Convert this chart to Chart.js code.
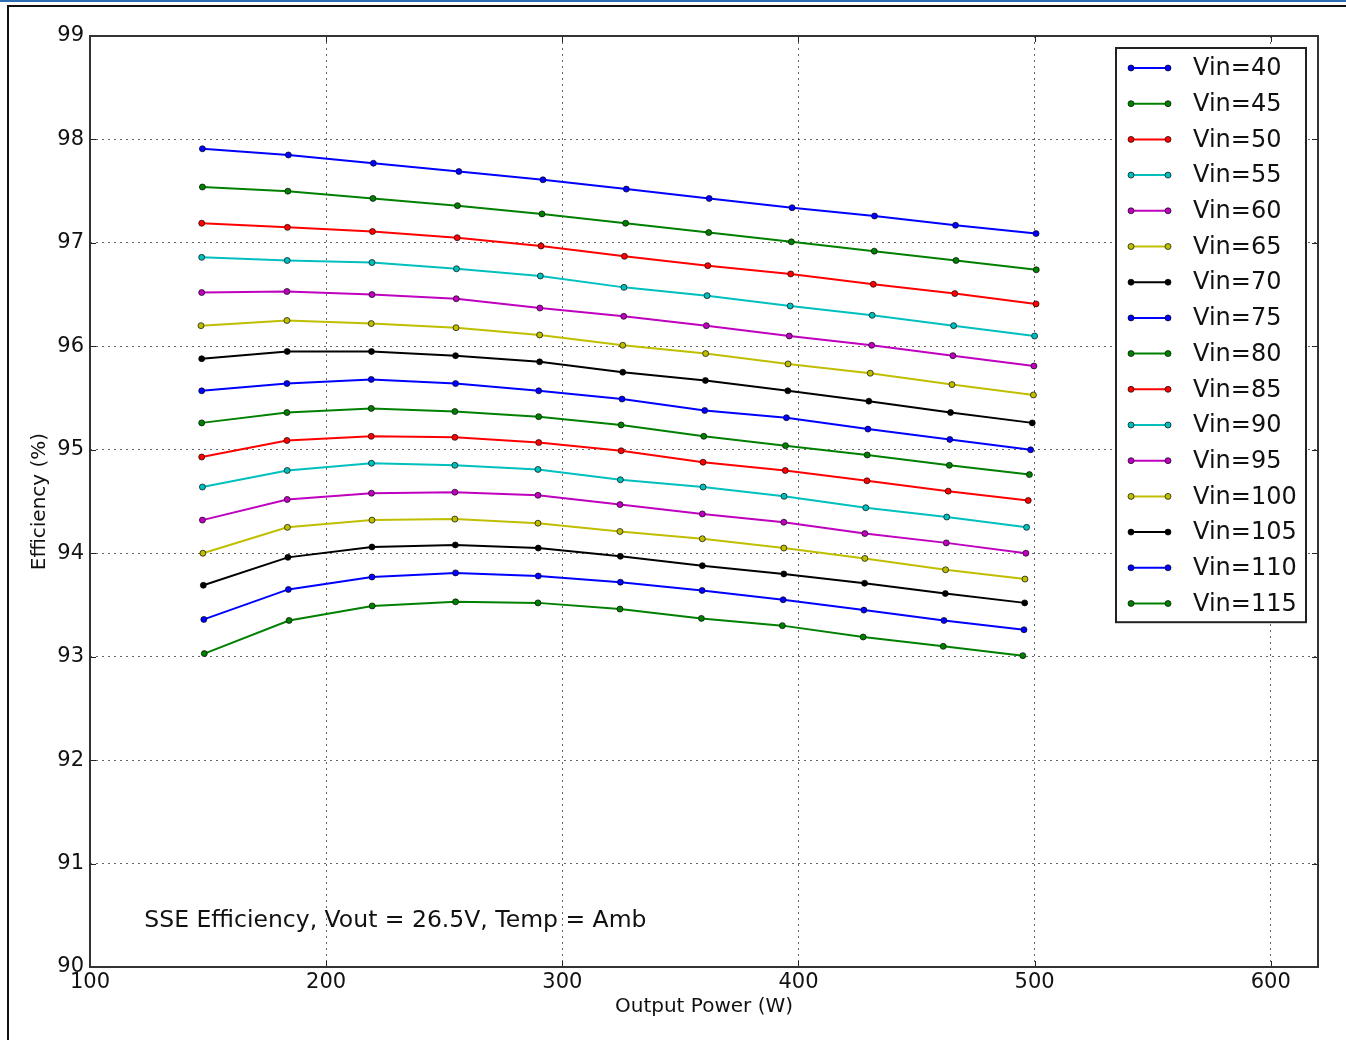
<!DOCTYPE html>
<html>
<head>
<meta charset="utf-8">
<script src="https://cdn.jsdelivr.net/npm/chart.js@4.4.0/dist/chart.umd.min.js"></script>
<style>
  html, body { margin: 0; padding: 0; background: #fff; }
  #wrap { position: relative; width: 1346px; height: 1040px; }
  canvas { display: block; }
</style>
</head>
<body>
<div id="wrap"><canvas id="c" width="1346" height="1040"></canvas></div>
<script>
// ---- Data ----
const seriesNames = ["Vin=40","Vin=45","Vin=50","Vin=55","Vin=60","Vin=65","Vin=70","Vin=75",
                     "Vin=80","Vin=85","Vin=90","Vin=95","Vin=100","Vin=105","Vin=110","Vin=115"];
const seriesColors = ["#0000ff","#008000","#ff0000","#00bfbf","#bf00bf","#bfbf00","#000000",
                      "#0000ff","#008000","#ff0000","#00bfbf","#bf00bf","#bfbf00","#000000","#0000ff","#008000"];

// Output power (W) per series
const power40  = [147.6,184.0,220.0,256.2,291.8,327.1,362.2,397.3,432.2,466.5,500.6];
const power45  = [147.6,183.8,219.8,255.6,291.4,326.8,362.0,397.0,432.1,466.7,500.7];
const power50  = [147.3,183.6,219.6,255.5,291.0,326.3,361.6,396.7,431.7,466.2,500.6];
const power55  = [147.3,183.5,219.4,255.2,290.7,326.1,361.3,396.5,431.2,465.7,500.0];
const power60  = [147.3,183.4,219.4,255.1,290.5,326.0,361.0,396.1,431.0,465.4,499.7];
const power65  = [147.0,183.4,219.1,255.0,290.4,325.6,360.7,395.6,430.4,465.0,499.5];
const power70  = [147.3,183.5,219.2,254.8,290.4,325.6,360.6,395.5,429.8,464.4,499.0];
const power75  = [147.3,183.4,219.1,254.8,290.0,325.3,360.3,394.9,429.4,464.1,498.3];
const power80  = [147.3,183.4,219.1,254.5,290.0,324.9,359.9,394.5,429.1,463.9,497.8];
const power85  = [147.3,183.4,219.1,254.5,290.0,324.9,359.6,394.4,429.0,463.4,497.3];
const power90  = [147.6,183.5,219.2,254.5,289.7,324.6,359.6,393.9,428.5,462.8,496.6];
const power95  = [147.6,183.5,219.2,254.5,289.7,324.4,359.3,393.8,428.1,462.6,496.3];
const power100 = [147.8,183.6,219.4,254.5,289.7,324.4,359.3,393.8,428.1,462.3,495.9];
const power105 = [148.0,183.8,219.4,254.7,289.8,324.6,359.3,393.8,428.0,462.2,495.8];
const power110 = [148.2,184.0,219.4,254.8,289.8,324.6,359.2,393.5,427.7,461.6,495.5];
const power115 = [148.4,184.3,219.5,254.8,289.7,324.4,358.9,393.2,427.4,461.3,495.0];

// Efficiency (%) per series
const eff40  = [97.91,97.85,97.77,97.69,97.61,97.52,97.43,97.34,97.26,97.17,97.09];
const eff45  = [97.54,97.50,97.43,97.36,97.28,97.19,97.10,97.01,96.92,96.83,96.74];
const eff50  = [97.19,97.15,97.11,97.05,96.97,96.87,96.78,96.70,96.60,96.51,96.41];
const eff55  = [96.86,96.83,96.81,96.75,96.68,96.57,96.49,96.39,96.30,96.20,96.10];
const eff60  = [96.52,96.53,96.50,96.46,96.37,96.29,96.20,96.10,96.01,95.91,95.81];
const eff65  = [96.20,96.25,96.22,96.18,96.11,96.01,95.93,95.83,95.74,95.63,95.53];
const eff70  = [95.88,95.95,95.95,95.91,95.85,95.75,95.67,95.57,95.47,95.36,95.26];
const eff75  = [95.57,95.64,95.68,95.64,95.57,95.49,95.38,95.31,95.20,95.10,95.00];
const eff80  = [95.26,95.36,95.40,95.37,95.32,95.24,95.13,95.04,94.95,94.85,94.76];
const eff85  = [94.93,95.09,95.13,95.12,95.07,94.99,94.88,94.80,94.70,94.60,94.51];
const eff90  = [94.64,94.80,94.87,94.85,94.81,94.71,94.64,94.55,94.44,94.35,94.25];
const eff95  = [94.32,94.52,94.58,94.59,94.56,94.47,94.38,94.30,94.19,94.10,94.00];
const eff100 = [94.00,94.25,94.32,94.33,94.29,94.21,94.14,94.05,93.95,93.84,93.75];
const eff105 = [93.69,93.96,94.06,94.08,94.05,93.97,93.88,93.80,93.71,93.61,93.52];
const eff110 = [93.36,93.65,93.77,93.81,93.78,93.72,93.64,93.55,93.45,93.35,93.26];
const eff115 = [93.03,93.35,93.49,93.53,93.52,93.46,93.37,93.30,93.19,93.10,93.01];

const powerSeries = [power40,power45,power50,power55,power60,power65,power70,power75,
                     power80,power85,power90,power95,power100,power105,power110,power115];
const effSeries = [eff40,eff45,eff50,eff55,eff60,eff65,eff70,eff75,
                   eff80,eff85,eff90,eff95,eff100,eff105,eff110,eff115];

const xTicks = [100,200,300,400,500,600];
const yTicks = [90,91,92,93,94,95,96,97,98,99];
const xMin = 100, xMax = 620, yMin = 90, yMax = 99;
const xTitle = "Output Power (W)";
const yTitle = "Efficiency (%)";
const noteText = "SSE Efficiency, Vout = 26.5V, Temp = Amb";
const notePos = { x: 123, y: 90.45 };

const FONT = "'DejaVu Sans', 'Bitstream Vera Sans', sans-serif";

const datasets = seriesNames.map((name, i) => ({
  label: name,
  data: powerSeries[i].map((p, j) => ({ x: p, y: effSeries[i][j] })),
  borderColor: seriesColors[i],
  backgroundColor: seriesColors[i],
  pointBackgroundColor: seriesColors[i],
  pointBorderColor: "rgba(0,0,0,0.85)",
  pointBorderWidth: 0.8,
  pointRadius: 3,
  borderWidth: 2,
  tension: 0,
  fill: false
}));

// Page decorations + axes frame, inside ticks, legend and note
const decoPlugin = {
  id: 'deco',
  beforeDraw(chart) {
    const ctx = chart.ctx;
    ctx.save();
    ctx.fillStyle = '#fff';
    ctx.fillRect(0, 0, chart.width, chart.height);
    ctx.fillStyle = '#2e6db4';
    ctx.fillRect(0, 0, chart.width, 2);
    ctx.fillStyle = '#111';
    ctx.fillRect(7, 5, chart.width - 7, 2);
    ctx.fillRect(7, 5, 2, chart.height - 5);
    ctx.restore();
  },
  afterDraw(chart) {
    const ctx = chart.ctx;
    const a = chart.chartArea;
    const xs = chart.scales.x, ys = chart.scales.y;
    ctx.save();
    ctx.strokeStyle = '#222';
    ctx.lineWidth = 1;
    const tl = 6;
    ctx.beginPath();
    xTicks.forEach(v => {
      const px = Math.round(xs.getPixelForValue(v)) + 0.5;
      ctx.moveTo(px, a.bottom); ctx.lineTo(px, a.bottom - tl);
      ctx.moveTo(px, a.top); ctx.lineTo(px, a.top + tl);
    });
    yTicks.forEach(v => {
      const py = Math.round(ys.getPixelForValue(v)) + 0.5;
      ctx.moveTo(a.left, py); ctx.lineTo(a.left + tl, py);
      ctx.moveTo(a.right, py); ctx.lineTo(a.right - tl, py);
    });
    ctx.stroke();
    ctx.strokeStyle = '#333';
    ctx.lineWidth = 2;
    ctx.strokeRect(a.left, a.top, a.right - a.left, a.bottom - a.top);

    // note text
    ctx.fillStyle = '#111';
    ctx.font = "23.5px " + FONT;
    ctx.textAlign = 'left';
    ctx.textBaseline = 'middle';
    ctx.fillText(noteText, xs.getPixelForValue(notePos.x), ys.getPixelForValue(notePos.y));

    // legend
    const lw = 190, rowH = 35.7;
    const lh = rowH * seriesNames.length + 3;
    const lx = a.right - 12 - lw;
    const ly = a.top + 12;
    ctx.fillStyle = '#fff';
    ctx.fillRect(lx, ly, lw, lh);
    ctx.strokeStyle = '#222';
    ctx.lineWidth = 2;
    ctx.strokeRect(lx, ly, lw, lh);
    ctx.font = "24px " + FONT;
    ctx.textBaseline = 'middle';
    chart.data.datasets.forEach((ds, i) => {
      const cy = ly + 20 + i * rowH;
      const x1 = lx + 15, x2 = lx + 52;
      ctx.strokeStyle = ds.borderColor;
      ctx.lineWidth = 2;
      ctx.beginPath(); ctx.moveTo(x1, cy); ctx.lineTo(x2, cy); ctx.stroke();
      [x1, x2].forEach(px => {
        ctx.beginPath();
        ctx.arc(px, cy, 3, 0, Math.PI * 2);
        ctx.fillStyle = ds.borderColor; ctx.fill();
        ctx.lineWidth = 0.8; ctx.strokeStyle = 'rgba(0,0,0,0.85)'; ctx.stroke();
      });
      ctx.fillStyle = '#111';
      ctx.fillText(ds.label, lx + 77, cy + 1);
    });
    ctx.restore();
  }
};

new Chart(document.getElementById('c'), {
  type: 'line',
  data: { datasets },
  options: {
    responsive: false,
    animation: false,
    devicePixelRatio: 1,
    layout: { padding: { left: 0, top: 36, right: 28, bottom: 0 } },
    plugins: { legend: { display: false }, tooltip: { enabled: false } },
    elements: { line: { tension: 0 } },
    scales: {
      x: {
        type: 'linear',
        min: xMin, max: xMax,
        afterBuildTicks: s => { s.ticks = xTicks.map(v => ({ value: v })); },
        afterFit: s => { s.height = 73; },
        border: { display: false, dash: [2, 4] },
        grid: { drawTicks: false, color: 'rgba(0,0,0,0.6)', lineWidth: 1 },
        ticks: { color: '#111', font: { family: FONT, size: 21 }, padding: 3, maxRotation: 0 },
        title: { display: true, text: xTitle, color: '#111', font: { family: FONT, size: 20 }, padding: { top: 0, bottom: 21 } }
      },
      y: {
        type: 'linear',
        min: yMin, max: yMax,
        afterBuildTicks: s => { s.ticks = yTicks.map(v => ({ value: v })); },
        afterFit: s => { s.width = 90; },
        border: { display: false, dash: [2, 4] },
        grid: { drawTicks: false, color: 'rgba(0,0,0,0.6)', lineWidth: 1 },
        ticks: { color: '#111', font: { family: FONT, size: 21 }, padding: 6 },
        title: { display: true, text: yTitle, color: '#111', font: { family: FONT, size: 20 }, padding: { top: 28, bottom: 0 } }
      }
    }
  },
  plugins: [decoPlugin]
});
</script>
</body>
</html>
